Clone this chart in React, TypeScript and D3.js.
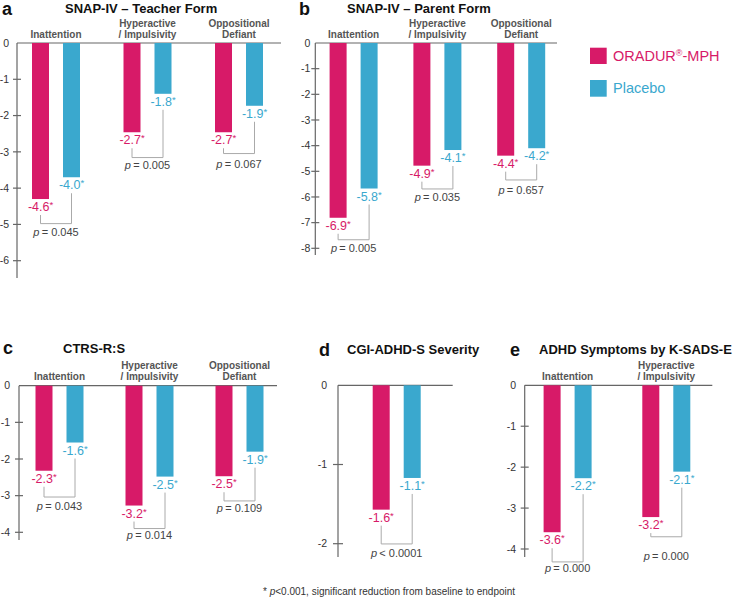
import React from "react";
import * as d3 from "d3";

// ---- data (bar lengths, labels as printed) ----
const threeGroups = ["Inattention", "Hyperactive\n/ Impulsivity", "Oppositional\nDefiant"];
const twoGroups = ["Inattention", "Hyperactive\n/ Impulsivity"];
const oneGroup = [""];

const teacherMph = [-4.3, -2.46, -2.46];
const teacherPbo = [-3.7, -1.4, -1.73];
const teacherMphLabels = ["-4.6", "-2.7", "-2.7"];
const teacherPboLabels = ["-4.0", "-1.8", "-1.9"];
const teacherP = ["= 0.045", "= 0.005", "= 0.067"];

const parentMph = [-6.81, -4.78, -4.39];
const parentPbo = [-5.67, -4.17, -4.1];
const parentMphLabels = ["-6.9", "-4.9", "-4.4"];
const parentPboLabels = ["-5.8", "-4.1", "-4.2"];
const parentP = ["= 0.005", "= 0.035", "= 0.657"];

const ctrsMph = [-2.32, -3.27, -2.47];
const ctrsPbo = [-1.55, -2.48, -1.8];
const ctrsMphLabels = ["-2.3", "-3.2", "-2.5"];
const ctrsPboLabels = ["-1.6", "-2.5", "-1.9"];
const ctrsP = ["= 0.043", "= 0.014", "= 0.109"];

const cgiMph = [-1.57];
const cgiPbo = [-1.17];
const cgiMphLabels = ["-1.6"];
const cgiPboLabels = ["-1.1"];
const cgiP = ["< 0.0001"];

const ksadsMph = [-3.59, -3.22];
const ksadsPbo = [-2.27, -2.11];
const ksadsMphLabels = ["-3.6", "-3.2"];
const ksadsPboLabels = ["-2.2", "-2.1"];
const ksadsP = ["= 0.000", "= 0.000"];

const MAGENTA = "#d71a68";
const BLUE = "#3aa8ce";
const FONT = "'Liberation Sans', Arial, Helvetica, sans-serif";

type PanelProps = {
  letter: string; letterX: number; title: string; titleX: number; titleY: number;
  groups: string[]; mph: number[]; pbo: number[];
  mphLabels: string[]; pboLabels: string[]; pLabels: string[];
  yMin: number; axisX: number; zeroY: number; minY: number; axisEnd: number; baseEnd: number;
  firstCenter: number; step: number; tickGap: number; tickHalf: number;
  bracketDy: number[]; pDy: number[];
};

function Panel(p: PanelProps) {
  const y = d3.scaleLinear().domain([0, p.yMin]).range([p.zeroY, p.minY]);
  const n = p.groups.length;
  const x = d3.scaleBand<string>()
    .domain(p.groups)
    .range([p.firstCenter - p.step / 2, p.firstCenter - p.step / 2 + n * p.step]);
  const inner = d3.scaleBand<string>().domain(["mph", "pbo"]).range([-24, 24]).paddingInner(14 / 31);
  const bw = inner.bandwidth();
  const ticks = d3.range(0, p.yMin - 1, -1);

  return (
    <g fontFamily={FONT}>
      <text x={p.letterX} y={p.titleY + 1.5} fontSize={18} fontWeight={700} fill="#111">{p.letter}</text>
      <text x={p.titleX} y={p.titleY} fontSize={13} fontWeight={700} fill="#111">{p.title}</text>

      {/* y axis */}
      <line x1={p.axisX} x2={p.axisX} y1={p.zeroY} y2={p.axisEnd} stroke="#666" strokeWidth={1.2} />
      {ticks.map(t => (
        <g key={t} transform={`translate(${p.axisX},${y(t)})`}>
          {t !== 0 && <line x1={-p.tickHalf} x2={p.tickHalf} stroke="#666" strokeWidth={1.2} />}
          <text x={-p.tickGap} dy="0.35em" textAnchor="end" fontSize={10.5} fill="#333">{t}</text>
        </g>
      ))}
      <line x1={p.axisX} x2={p.baseEnd} y1={p.zeroY} y2={p.zeroY} stroke="#666" strokeWidth={1.2} />

      {p.groups.map((g, i) => {
        const cx = (x(g) as number) + p.step / 2;
        const lines = g.split("\n");
        const mx = cx + (inner("mph") as number) + bw / 2;
        const bx = cx + (inner("pbo") as number) + bw / 2;
        const mLab = y(p.mph[i]) + 12;
        const bLab = y(p.pbo[i]) + 12;
        const brY = Math.max(mLab, bLab) + p.bracketDy[i];
        return (
          <g key={i}>
            {lines.map((l, k) => (
              <text key={k} x={cx} y={p.zeroY - 5.5 - (lines.length - 1 - k) * 11}
                textAnchor="middle" fontSize={10} fontWeight={700} fill="#555">{l}</text>
            ))}
            <rect x={cx + (inner("mph") as number)} y={p.zeroY} width={bw}
              height={y(p.mph[i]) - p.zeroY} fill={MAGENTA} />
            <rect x={cx + (inner("pbo") as number)} y={p.zeroY} width={bw}
              height={y(p.pbo[i]) - p.zeroY} fill={BLUE} />
            <text x={mx} y={mLab} textAnchor="middle" fontSize={12.5} fill={MAGENTA}>
              {p.mphLabels[i]}<tspan fontSize={9.5} dy={-3}>*</tspan>
            </text>
            <text x={bx} y={bLab} textAnchor="middle" fontSize={12.5} fill={BLUE}>
              {p.pboLabels[i]}<tspan fontSize={9.5} dy={-3}>*</tspan>
            </text>
            <path d={`M${mx},${mLab + 4}V${brY}H${bx}V${bLab + 4}`} fill="none" stroke="#aaa" strokeWidth={1} />
            <text x={cx} y={brY + p.pDy[i]} textAnchor="middle" fontSize={11} fill="#444">
              <tspan fontStyle="italic">p</tspan>{"\u2009" + p.pLabels[i]}
            </text>
          </g>
        );
      })}
    </g>
  );
}

export default function App() {
  return (
    <svg width={740} height={604} style={{ position: "absolute", left: 0, top: 0, background: "#fff" }}>
      <Panel letter="a" letterX={2} title="SNAP-IV – Teacher Form" titleX={65} titleY={13}
        groups={threeGroups} mph={teacherMph} pbo={teacherPbo}
        mphLabels={teacherMphLabels} pboLabels={teacherPboLabels} pLabels={teacherP}
        yMin={-6} axisX={17} zeroY={43} minY={260.7} axisEnd={278} baseEnd={281}
        firstCenter={56} step={91.5} tickGap={8} tickHalf={4}
        bracketDy={[12.6, 13.3, 9.3]} pDy={[12.4, 11.7, 14.7]} />
      <Panel letter="b" letterX={299} title="SNAP-IV – Parent Form" titleX={347} titleY={13}
        groups={threeGroups} mph={parentMph} pbo={parentPbo}
        mphLabels={parentMphLabels} pboLabels={parentPboLabels} pLabels={parentP}
        yMin={-8} axisX={315.3} zeroY={43} minY={248.3} axisEnd={255} baseEnd={557}
        firstCenter={353.6} step={83.8} tickGap={5} tickHalf={4}
        bracketDy={[10, 11.3, 12.3]} pDy={[12.4, 12, 13.7]} />
      <Panel letter="c" letterX={3} title="CTRS-R:S" titleX={63} titleY={352.7}
        groups={threeGroups} mph={ctrsMph} pbo={ctrsPbo}
        mphLabels={ctrsMphLabels} pboLabels={ctrsPboLabels} pLabels={ctrsP}
        yMin={-4} axisX={19} zeroY={385.7} minY={532.3} axisEnd={540} baseEnd={277}
        firstCenter={59.5} step={90} tickGap={9} tickHalf={4}
        bracketDy={[14.3, 11, 12.7]} pDy={[12.7, 10.6, 11]} />
      <Panel letter="d" letterX={319} title="CGI-ADHD-S Severity" titleX={347} titleY={354}
        groups={oneGroup} mph={cgiMph} pbo={cgiPbo}
        mphLabels={cgiMphLabels} pboLabels={cgiPboLabels} pLabels={cgiP}
        yMin={-2} axisX={338} zeroY={385.3} minY={543.7} axisEnd={557} baseEnd={452.7}
        firstCenter={396.7} step={100} tickGap={11} tickHalf={5}
        bracketDy={[22.3]} pDy={[13.4]} />
      <Panel letter="e" letterX={510} title="ADHD Symptoms by K-SADS-E" titleX={539} titleY={354}
        groups={twoGroups} mph={ksadsMph} pbo={ksadsPbo}
        mphLabels={ksadsMphLabels} pboLabels={ksadsPboLabels} pLabels={ksadsP}
        yMin={-4} axisX={524.7} zeroY={385.3} minY={549} axisEnd={557} baseEnd={712.3}
        firstCenter={567.6} step={98.7} tickGap={8.7} tickHalf={4}
        bracketDy={[17.7, 7.7]} pDy={[10.3, 23]} />

      {/* legend */}
      <g fontFamily={FONT} fontSize={14.5}>
        <rect x={590} y={47.7} width={16.7} height={16.3} fill={MAGENTA} />
        <text x={613} y={61} fill={MAGENTA}>ORADUR<tspan fontSize={9} dy={-5}>®</tspan><tspan dy={5}>-MPH</tspan></text>
        <rect x={590} y={80} width={16.7} height={16.7} fill={BLUE} />
        <text x={613} y={93.3} fill={BLUE}>Placebo</text>
      </g>

      <text x={263} y={595} fontFamily={FONT} fontSize={10} fill="#333">
        {"* "}<tspan fontStyle="italic">p</tspan>{"<0.001, significant reduction from baseline to endpoint"}
      </text>
    </svg>
  );
}
